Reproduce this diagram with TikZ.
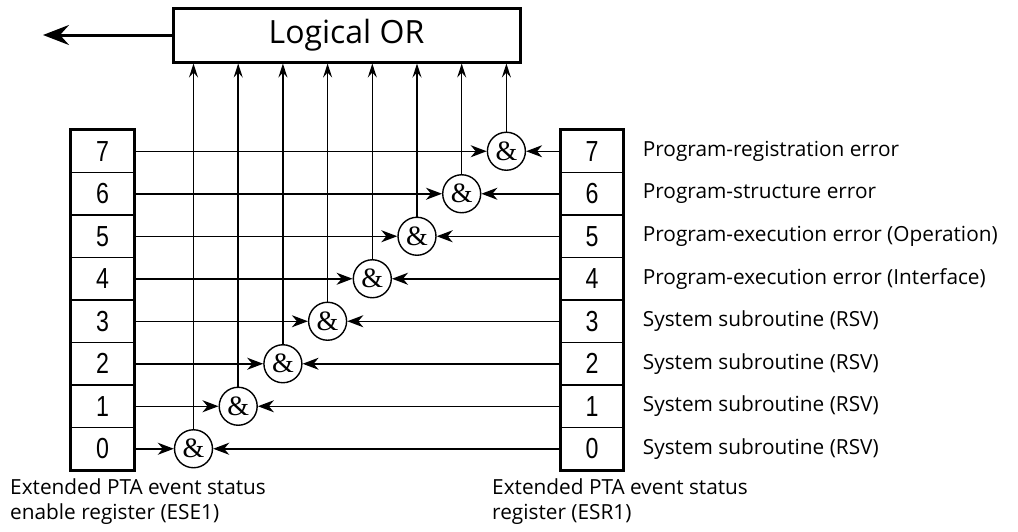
\documentclass[tikz,border=0pt]{standalone}
\usepackage{fontspec}
\usepackage{graphicx}
\setmainfont{Open Sans}
\newfontfamily\digitfont{Liberation Sans}
\newfontfamily\ampfont{Liberation Serif}
\usetikzlibrary{arrows.meta}
\begin{document}
\begin{tikzpicture}[x=1pt,y=-1pt,
  cell/.style={draw,line width=1.4pt,minimum width=62pt,minimum height=42.5pt,inner sep=0pt,
    font=\digitfont\fontsize{29}{29}\selectfont},
  andgate/.style={circle,draw,line width=1.4pt,minimum size=38pt,inner sep=0pt,
    font=\ampfont\fontsize{28}{28}\selectfont},
  sig/.style={line width=1.5pt,-{Stealth[length=16pt,width=12pt,inset=5pt]}},
  upsig/.style={line width=1.5pt,-{Stealth[length=14pt,width=9pt,inset=5pt]}},
  lbl/.style={anchor=west,font=\fontsize{20.8}{20.8}\selectfont,inner sep=0pt},
  caption/.style={anchor=north west,align=left,inner sep=0pt,font=\fontsize{20.8}{25}\selectfont},
  regframe/.style={line width=3pt}]
\useasboundingbox (0,0) rectangle (1018,531);
% Logical OR box
\node[draw,line width=3pt,minimum width=347pt,minimum height=54pt,inner sep=0pt,
  font=\fontsize{32}{32}\selectfont] (OR) at (346.5,35) {Logical OR};
\coordinate (out) at (43,35);
\draw[line width=3pt,-{Stealth[length=26pt,width=20pt,inset=9pt]}] (OR.west) -- (out);
% registers
\foreach \k in {0,...,7}{
  \pgfmathsetmacro\yy{130+42.5*(7-\k)+21.25}
  \pgfmathsetmacro\xx{193.5+44.7*\k}
  \node[cell] (L\k) at (102.5,\yy) {\scalebox{0.8}[1]{\k}};
  \node[cell] (R\k) at (592,\yy) {\scalebox{0.8}[1]{\k}};
  \node[andgate] (A\k) at (\xx,\yy) {\&};
  \draw[sig] (L\k.east) -- (A\k.west);
  \draw[sig] (R\k.west) -- (A\k.east);
  \draw[upsig] (A\k.north) -- (A\k.north |- OR.south);
}
\draw[regframe] (L7.north west) rectangle (L0.south east);
\draw[regframe] (R7.north west) rectangle (R0.south east);
% labels
\node[lbl] (t7) at ([xshift=19pt]R7.east) {Program-registration error};
\node[lbl] (t6) at ([xshift=19pt]R6.east) {Program-structure error};
\node[lbl] (t5) at ([xshift=19pt]R5.east) {Program-execution error (Operation)};
\node[lbl] (t4) at ([xshift=19pt]R4.east) {Program-execution error (Interface)};
\node[lbl] (t3) at ([xshift=19pt]R3.east) {System subroutine (RSV)};
\node[lbl] (t2) at ([xshift=19pt]R2.east) {System subroutine (RSV)};
\node[lbl] (t1) at ([xshift=19pt]R1.east) {System subroutine (RSV)};
\node[lbl] (t0) at ([xshift=19pt]R0.east) {System subroutine (RSV)};
\node[caption] (capL) at (10,478) {Extended PTA event status\\enable register (ESE1)};
\node[caption] (capR) at (492,478) {Extended PTA event status\\register (ESR1)};
\end{tikzpicture}
\end{document}
